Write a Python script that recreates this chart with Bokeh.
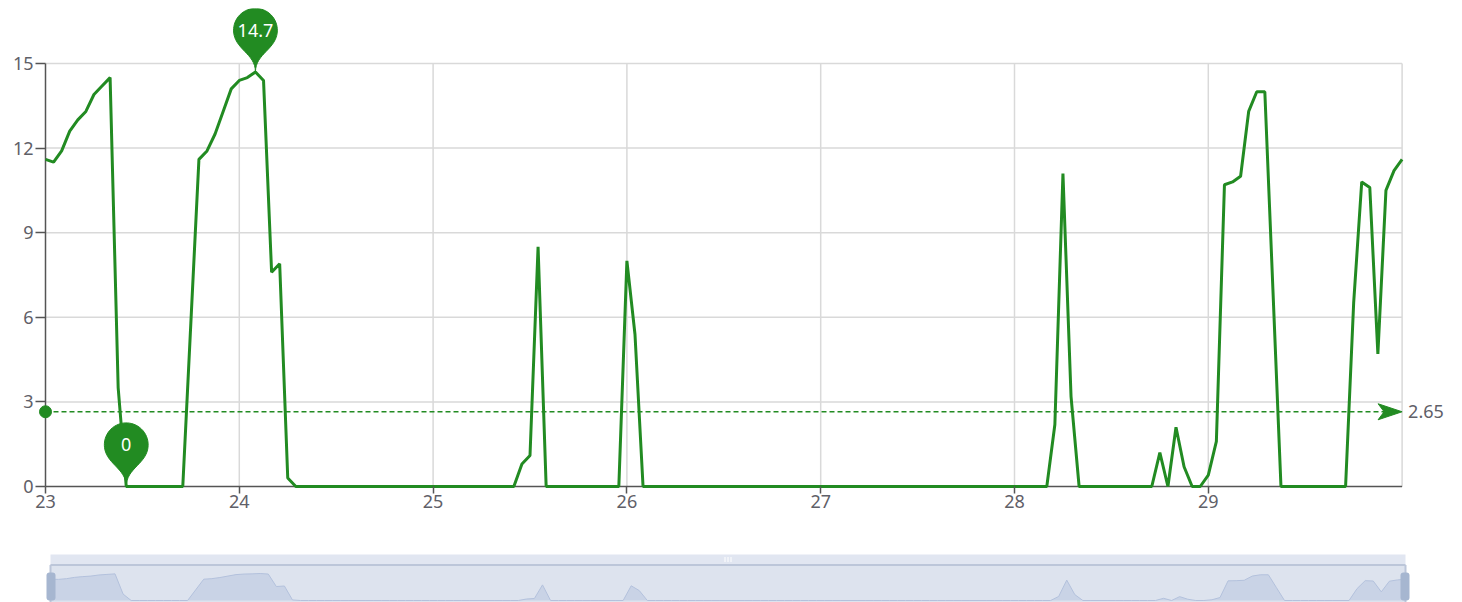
import math
import numpy as np
from bokeh.plotting import figure
from bokeh.models import Range1d, FixedTicker
from bokeh.layouts import column
from bokeh.embed import file_html
from bokeh.resources import INLINE
from bokeh.core.properties import value

# ---------------- data (hourly readings, day-of-month axis) ----------------
start_day = 23
hours_per_day = 24
values = [
    # 23
    11.6, 11.5, 11.9, 12.6, 13.0, 13.3, 13.9, 14.2, 14.5, 3.5, 0, 0,
    0, 0, 0, 0, 0, 0, 5.8, 11.6, 11.9, 12.5, 13.3, 14.1,
    # 24
    14.4, 14.5, 14.7, 14.4, 7.6, 7.9, 0.3, 0, 0, 0, 0, 0,
    0, 0, 0, 0, 0, 0, 0, 0, 0, 0, 0, 0,
    # 25
    0, 0, 0, 0, 0, 0, 0, 0, 0, 0, 0, 0.8,
    1.1, 8.5, 0, 0, 0, 0, 0, 0, 0, 0, 0, 0,
    # 26
    8.0, 5.4, 0, 0, 0, 0, 0, 0, 0, 0, 0, 0,
    0, 0, 0, 0, 0, 0, 0, 0, 0, 0, 0, 0,
    # 27
    0, 0, 0, 0, 0, 0, 0, 0, 0, 0, 0, 0,
    0, 0, 0, 0, 0, 0, 0, 0, 0, 0, 0, 0,
    # 28
    0, 0, 0, 0, 0, 2.2, 11.1, 3.2, 0, 0, 0, 0,
    0, 0, 0, 0, 0, 0, 1.2, 0, 2.1, 0.7, 0, 0,
    # 29
    0.4, 1.6, 10.7, 10.8, 11.0, 13.3, 14.0, 14.0, 7.0, 0, 0, 0,
    0, 0, 0, 0, 0, 0, 6.5, 10.8, 10.6, 4.7, 10.5, 11.2,
    # 30
    11.6,
]
x_ticks = [23, 24, 25, 26, 27, 28, 29]
y_ticks = [0, 3, 6, 9, 12, 15]
avg_value = 2.65          # average mark line value as shown
x_end_day = 30

xs = start_day + np.arange(len(values)) / hours_per_day

# ---------------- styles ----------------
GREEN = "#228B22"
AXIS = "#555555"
GRID = "#d9d9d9"
LABEL = "#5f6068"
FONT = "Noto Sans"

# ---------------- geometry (page pixels) ----------------
SX = 193.8   # px per day
SY = 28.2    # px per unit
FRAME_L = 35       # page x of frame left
X0_PX = 45         # page x of start_day
FRAME_R = 1458     # page x of frame right
FRAME_T = 8
ZERO_PX = 486      # page y of value 0
FRAME_B = 489
MAIN_H = 529
FR_W = FRAME_R - FRAME_L
FR_H = FRAME_B - FRAME_T

p = figure(frame_width=FR_W, frame_height=FR_H,
           min_border_left=FRAME_L, min_border_right=0, min_border_top=FRAME_T,
           min_border_bottom=MAIN_H - FRAME_B,
           x_range=Range1d(start_day - (X0_PX - FRAME_L) / SX, start_day + (FRAME_R - X0_PX) / SX),
           y_range=Range1d(-(FRAME_B - ZERO_PX) / SY, (ZERO_PX - FRAME_T) / SY),
           output_backend="svg", toolbar_location=None)
p.outline_line_color = None
p.grid.visible = False

# axes
p.yaxis.ticker = FixedTicker(ticks=y_ticks)
p.yaxis.axis_line_color = None
p.yaxis.major_tick_in = 10
p.yaxis.major_tick_out = 0
p.yaxis.minor_tick_line_color = None
p.yaxis.major_tick_line_color = AXIS
p.yaxis.major_tick_line_width = 1.5
p.yaxis.major_label_standoff = 2
p.yaxis.major_label_text_font = FONT
p.yaxis.major_label_text_font_size = "18px"
p.yaxis.major_label_text_color = LABEL

p.xaxis.ticker = FixedTicker(ticks=x_ticks)
p.xaxis.axis_line_color = None
p.xaxis.major_tick_in = 3
p.xaxis.major_tick_out = 4
p.xaxis.minor_tick_line_color = None
p.xaxis.major_tick_line_color = AXIS
p.xaxis.major_tick_line_width = 1.5
p.xaxis.major_label_standoff = 1
p.xaxis.major_label_text_font = FONT
p.xaxis.major_label_text_font_size = "18px"
p.xaxis.major_label_text_color = LABEL

y_max_tick = y_ticks[-1]
# grid lines
hx = [t for t in y_ticks if t > 0]
p.segment(x0=[start_day] * len(hx), y0=hx, x1=[x_end_day] * len(hx), y1=hx,
          line_color=GRID, line_width=1.5)
vx = [t for t in x_ticks if t > start_day] + [x_end_day]
p.segment(x0=vx, y0=[0] * len(vx), x1=vx, y1=[y_max_tick] * len(vx),
          line_color=GRID, line_width=1.5)
# axis lines
p.segment(x0=[start_day, start_day], y0=[0, 0], x1=[start_day, x_end_day], y1=[y_max_tick, 0],
          line_color=AXIS, line_width=1.5)

# data line
p.line(xs, values, line_color=GREEN, line_width=3)

# average mark line
ARROW_LEN = 24
ARROW_HALF = 8
x_arrow_tip = x_end_day
p.segment(x0=[start_day], y0=[avg_value], x1=[x_arrow_tip - ARROW_LEN * 0.75 / SX], y1=[avg_value],
          line_color=GREEN, line_width=1.5, line_dash="5 3")
p.scatter([start_day], [avg_value], size=12, marker="circle", fill_color=GREEN, line_color=GREEN)
ax_px = [0, -ARROW_LEN, -ARROW_LEN * 0.75, -ARROW_LEN]
ay_px = [0, -ARROW_HALF, 0, ARROW_HALF]
p.patch([x_arrow_tip + a / SX for a in ax_px], [avg_value - b / SY for b in ay_px],
        fill_color=GREEN, line_color=GREEN, line_width=1)
p.text(x=[x_arrow_tip], y=[avg_value], text=[f"{avg_value:.2f}"], x_offset=6,
       text_baseline="middle", text_align="left", text_font=value(FONT),
       text_font_size="18px", text_color=LABEL)


# pins (ECharts-like "pin" symbol) for max and min
def pin_shape(w0=73.0):
    w = w0 * 3 / 5
    h = max(w, w0)
    r = w / 2
    dy = r * r / (h - r)
    cy = -h + r + dy
    ang = math.asin(dy / r)
    dx = math.cos(ang) * r
    tx, ty = math.sin(ang), math.cos(ang)
    cp1, cp2 = r * 0.6, r * 0.7
    px, py = [], []
    for t in np.linspace(math.pi - ang, 2 * math.pi + ang, 40):
        px.append(r * math.cos(t))
        py.append(cy + r * math.sin(t))

    def bez(p0, p1, p2, p3, n=14):
        out = []
        for s_ in np.linspace(0, 1, n)[1:]:
            a = (1 - s_) ** 3
            b = 3 * (1 - s_) ** 2 * s_
            c = 3 * (1 - s_) * s_ ** 2
            d = s_ ** 3
            out.append((a * p0[0] + b * p1[0] + c * p2[0] + d * p3[0],
                        a * p0[1] + b * p1[1] + c * p2[1] + d * p3[1]))
        return out

    for q in bez((dx, cy + dy), (dx - tx * cp1, cy + dy + ty * cp1), (0, -cp2), (0, 0)):
        px.append(q[0]); py.append(q[1])
    for q in bez((0, 0), (0, -cp2), (-dx + tx * cp1, cy + dy + ty * cp1), (-dx, cy + dy)):
        px.append(q[0]); py.append(q[1])
    return px, py, cy


vals = np.array(values)
i_max = int(np.argmax(vals))
i_min = int(np.argmin(vals))
pxs, pys, pcy = pin_shape()
for idx in (i_max, i_min):
    x0, y0 = xs[idx], vals[idx]
    p.patch([x0 + a / SX for a in pxs], [y0 - b / SY for b in pys],
            fill_color=GREEN, line_color=GREEN, line_width=1)
    lbl = f"{vals[idx]:g}"
    p.text(x=[x0], y=[y0 - pcy / SY], text=[lbl], text_color="white",
           text_font=value(FONT), text_font_size="18px",
           text_align="center", text_baseline="middle")

# ---------------- slider (data zoom) ----------------
S_LEFT, S_RIGHT = 50, 1405       # page px of slider extent
S_ZERO, S_MAXPX = 600, 573       # page px of 0 and of max in the shadow
S_TOP = MAIN_H
S_BOTTOM = 602
SXs = (S_RIGHT - S_LEFT) / (x_end_day - start_day)
SYs = (S_ZERO - S_MAXPX) / max(values)

s = figure(frame_width=FR_W, frame_height=S_BOTTOM - S_TOP,
           min_border_left=FRAME_L, min_border_right=0, min_border_top=0, min_border_bottom=0,
           x_range=Range1d(start_day - (S_LEFT - FRAME_L) / SXs, start_day + (FRAME_R - S_LEFT) / SXs),
           y_range=Range1d(-(S_BOTTOM - S_ZERO) / SYs, (S_ZERO - S_TOP) / SYs),
           x_axis_location=None, y_axis_location=None,
           output_backend="svg", toolbar_location=None)
s.outline_line_color = None
s.grid.visible = False
s.extra_x_ranges = {"px": Range1d(FRAME_L, FRAME_R)}
s.extra_y_ranges = {"px": Range1d(S_BOTTOM, S_TOP)}

s.quad(left=[S_LEFT], right=[S_RIGHT], top=[554], bottom=[564.5],
       fill_color="#e1e6f1", line_color=None, x_range_name="px", y_range_name="px")
s.quad(left=[S_LEFT], right=[S_RIGHT], top=[564.5], bottom=[S_BOTTOM],
       fill_color="#dde3ee", line_color=None, x_range_name="px", y_range_name="px")
s.varea(x=xs, y1=np.zeros(len(values)), y2=values, fill_color="#c9d3e6")
s.line(xs, values, line_color="#b3c1dc", line_width=1)
s.segment(x0=[S_LEFT, S_LEFT, S_RIGHT], y0=[564.5, 564.5, 564.5],
          x1=[S_RIGHT, S_LEFT, S_RIGHT], y1=[564.5, S_BOTTOM, S_BOTTOM],
          line_color="#bcc6d9", line_width=2, x_range_name="px", y_range_name="px")
mid = (S_LEFT + S_RIGHT) / 2
s.segment(x0=[mid - 3, mid, mid + 3], y0=[556.5] * 3, x1=[mid - 3, mid, mid + 3], y1=[561.5] * 3,
          line_color="white", line_width=1, x_range_name="px", y_range_name="px")
s.quad(left=[S_LEFT - 4, S_RIGHT - 5], right=[S_LEFT + 5, S_RIGHT + 4], top=[572, 572], bottom=[600, 600],
       fill_color="#a6b6d0", line_color=None, border_radius=3, x_range_name="px", y_range_name="px")

layout = column(p, s, spacing=0)
open("out.html", "w").write(file_html(layout, INLINE))
